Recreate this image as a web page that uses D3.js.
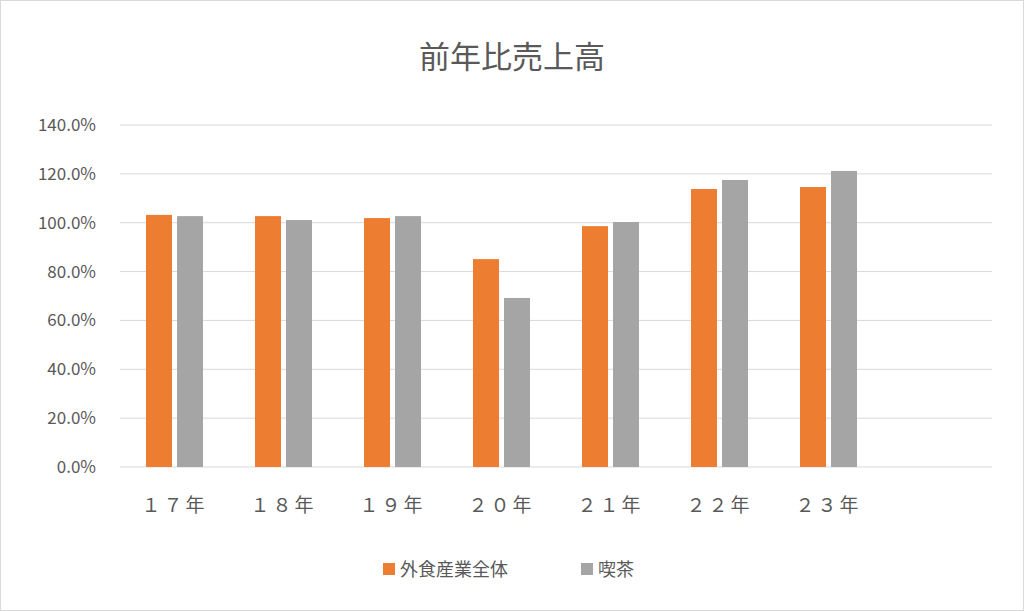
<!DOCTYPE html>
<html><head><meta charset="utf-8">
<script src="https://cdn.jsdelivr.net/npm/d3@7"></script>
<style>body{margin:0;background:#fff}svg{font-family:"Noto Sans CJK JP","Noto Sans",sans-serif}</style>
</head><body><svg id="c" width="1024" height="611"></svg>
<script>
const categories=["１７年","１８年","１９年","２０年","２１年","２２年","２３年",""];
const seriesNames=["外食産業全体","喫茶"];
const gaishoku=[103.2,102.7,101.9,85.1,98.6,113.8,114.6,null];
const kissa=[102.7,101.1,102.7,69.2,100.3,117.5,121.2,null];
const yTicks=[0,20,40,60,80,100,120,140];
const colors=["#ED7D31","#A5A5A5"];
const svg=d3.select("#c");
svg.append("rect").attr("x",0.5).attr("y",0.5).attr("width",1023).attr("height",610).attr("fill","#fff").attr("stroke","#d9d9d9");
const x=d3.scaleBand().domain(categories).range([120,992]);
const y=d3.scaleLinear().domain([0,140]).range([467,125]);
svg.append("text").attr("x",512).attr("y",68).attr("text-anchor","middle").attr("font-size",31).attr("fill","#595959").text("前年比売上高");
yTicks.forEach(t=>{
 svg.append("line").attr("x1",120).attr("x2",992).attr("y1",y(t)).attr("y2",y(t)).attr("stroke","#d9d9d9");
 svg.append("text").attr("x",96).attr("y",y(t)+6).attr("text-anchor","end").attr("font-size",17).attr("fill","#595959").text(t.toFixed(1)+"%");
});
const bw=26,gap=5;
[gaishoku,kissa].forEach((s,i)=>{
 svg.append("g").selectAll("rect").data(categories.map((c,j)=>({c,v:s[j]})).filter(d=>d.v!=null)).join("rect")
  .attr("x",d=>x(d.c)+x.bandwidth()/2+(i===0?-bw-gap/2:gap/2)).attr("width",bw)
  .attr("y",d=>y(d.v)).attr("height",d=>y(0)-y(d.v)).attr("fill",colors[i]);
});
categories.forEach(c=>{ if(c) svg.append("text").attr("x",x(c)+x.bandwidth()/2).attr("y",512).attr("text-anchor","middle").attr("font-size",19).attr("letter-spacing",3).attr("fill","#595959").text(c);});
const lg=[{x:383},{x:581}];
seriesNames.forEach((n,i)=>{
 svg.append("rect").attr("x",lg[i].x).attr("y",563).attr("width",12).attr("height",12).attr("fill",colors[i]);
 svg.append("text").attr("x",lg[i].x+17).attr("y",576).attr("font-size",18).attr("fill","#595959").text(n);
});
</script></body></html>
